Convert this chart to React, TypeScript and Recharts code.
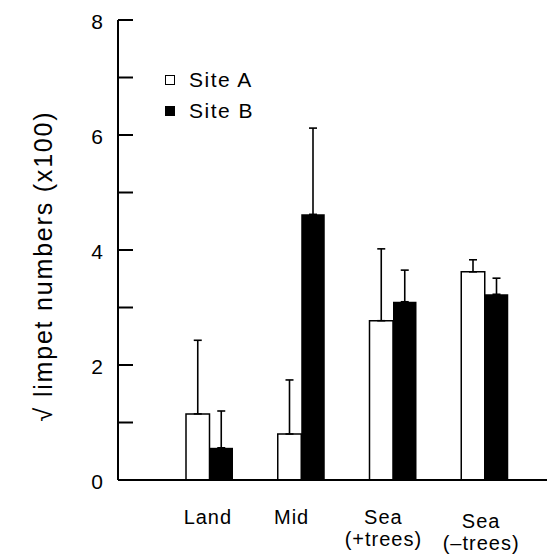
import { BarChart, Bar, XAxis, YAxis, ErrorBar, Legend } from 'recharts';

// √-transformed limpet counts per shore position, two sites
const positions = ['Land', 'Mid', 'Sea\n(+trees)', 'Sea\n(–trees)'];
const siteA = [1.15, 0.8, 2.77, 3.62];
const siteAErr = [1.28, 0.94, 1.25, 0.21];
const siteB = [0.56, 4.62, 3.1, 3.23];
const siteBErr = [0.64, 1.5, 0.55, 0.28];
const yTicks = [0, 1, 2, 3, 4, 5, 6, 7, 8];

const data = positions.map((name, i) => ({
  name,
  a: siteA[i],
  aErr: [0, siteAErr[i]],
  b: siteB[i],
  bErr: [0, siteBErr[i]],
}));

const FONT = '"Liberation Sans", Arial, Helvetica, sans-serif';

// inward tick marks, labels only on even values
function YTick({ x, y, payload }: any) {
  const v = payload.value as number;
  return (
    <g>
      <line x1={x} x2={x + 15} y1={y} y2={y} stroke="#000" strokeWidth={2} />
      {v % 2 === 0 && (
        <text x={x - 15} y={y + 9} textAnchor="end" fontSize={21} fontFamily={FONT} fill="#000">
          {v}
        </text>
      )}
    </g>
  );
}

const tickShift = [
  { dx: -2, dy: 0 },
  { dx: -10, dy: 0 },
  { dx: -10, dy: 0 },
  { dx: -4, dy: 4 },
];

function XTick({ x, y, payload, index }: any) {
  const lines = String(payload.value).split('\n');
  const s = tickShift[index] ?? { dx: 0, dy: 0 };
  return (
    <text textAnchor="middle" fontSize={20} fontFamily={FONT} letterSpacing={1} fill="#000">
      {lines.map((l, i) => (
        <tspan key={i} x={x + s.dx} y={y + 44 + s.dy + i * 22}>
          {l}
        </tspan>
      ))}
    </text>
  );
}

function YLabel({ viewBox }: any) {
  const cx = viewBox.x + 44;
  const cy = viewBox.y + viewBox.height / 2 + 16;
  return (
    <text
      transform={`translate(${cx},${cy}) rotate(-90)`}
      textAnchor="middle"
      fontSize={25}
      fontFamily={FONT}
      letterSpacing={1.8}
      fill="#000"
    >
      √ limpet numbers (x100)
    </text>
  );
}

function SiteLegend({ payload }: any) {
  return (
    <div style={{ fontFamily: FONT, fontSize: 21, letterSpacing: 1.5, color: '#000' }}>
      {(payload ?? []).map((p: any) => (
        <div key={p.value} style={{ display: 'flex', alignItems: 'center', height: 31 }}>
          <svg width={10} height={10} style={{ marginRight: 14 }}>
            <rect x={0.5} y={0.5} width={9} height={9} fill={p.color} stroke="#000" strokeWidth={1} />
          </svg>
          <span>{p.value}</span>
        </div>
      ))}
    </div>
  );
}

export default function App() {
  return (
    <BarChart
      width={547}
      height={549}
      data={data}
      margin={{ top: 12, right: 0, bottom: 0, left: 0 }}
      barGap={0}
      style={{ background: '#fff' }}
    >
      <XAxis
        dataKey="name"
        height={77}
        interval={0}
        padding={{ left: 46, right: 24 }}
        tickSize={0}
        tickMargin={0}
        tickLine={false}
        axisLine={{ stroke: '#000', strokeWidth: 2 }}
        tick={<XTick />}
      />
      <YAxis
        width={110}
        domain={[0, 8]}
        ticks={yTicks}
        interval={0}
        tickSize={0}
        tickMargin={0}
        tickLine={false}
        axisLine={{ stroke: '#000', strokeWidth: 2 }}
        tick={<YTick />}
        label={<YLabel />}
      />
      {/* centred/middle so the legend does not eat into the plot margins */}
      <Legend
        layout="vertical"
        verticalAlign="middle"
        align="center"
        content={<SiteLegend />}
        wrapperStyle={{ left: 157, top: 56, width: 'auto' }}
      />
      <Bar
        dataKey="a"
        name="Site A"
        fill="#fff"
        stroke="#000"
        strokeWidth={1.5}
        barSize={23.5}
        isAnimationActive={false}
      >
        <ErrorBar dataKey="aErr" direction="y" width={4} stroke="#000" strokeWidth={1.6} isAnimationActive={false} />
      </Bar>
      <Bar dataKey="b" name="Site B" fill="#000" barSize={23.5} isAnimationActive={false}>
        <ErrorBar dataKey="bErr" direction="y" width={4} stroke="#000" strokeWidth={1.6} isAnimationActive={false} />
      </Bar>
    </BarChart>
  );
}
